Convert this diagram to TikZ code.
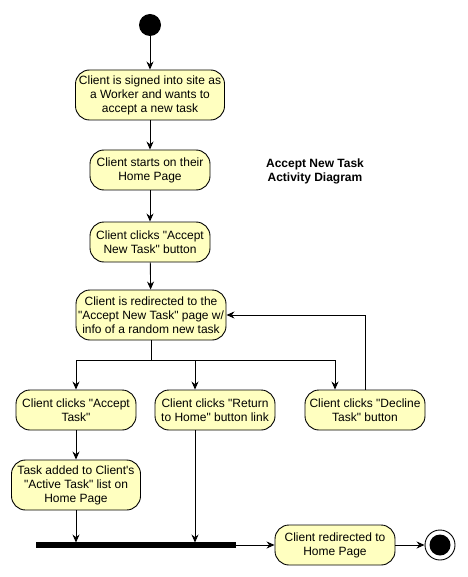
\documentclass[tikz,border=0pt]{standalone}
\usepackage{fontspec}
\newfontfamily\diagramfont{Liberation Sans}
\usetikzlibrary{arrows.meta,positioning}
\definecolor{taskyellow}{HTML}{FFFFC0}

\begin{document}
\begin{tikzpicture}[x=1pt,y=-1pt,line width=0.9pt,
			every node/.style={font=\diagramfont\fontsize{12}{14}\selectfont},
			activity/.style={draw,fill=taskyellow,rounded corners=14pt,align=center,
				inner sep=1pt,minimum width=120pt,minimum height=40pt},
			flow/.style={-{Stealth[length=8pt,width=7pt]}},
			syncbar/.style={fill=black,minimum width=200pt,minimum height=6pt,inner sep=0pt}]

	\useasboundingbox[fill=white] (0,0) rectangle (467,577);

	% start and end
	\node [circle,fill=black,minimum size=22pt,inner sep=0pt] (start) at (150,25) {};
	\node [circle,draw,fill=white,minimum size=30pt,inner sep=0pt] (finish) at (440,545) {};
	\fill (finish.center) circle (10.5pt);

	% activities
	\node [activity,minimum width=149pt,minimum height=50pt] (signed) at (150,95)
		{Client is signed into site as\\a Worker and wants to\\accept a new task};
	\node [activity] (home) at (150,170) {Client starts on their\\Home Page};
	\node [activity] (clicks) at (150,242) {Client clicks "Accept\\New Task" button};
	\node [activity,minimum width=150pt,minimum height=50pt] (redirect) at (151,315)
		{Client is redirected to the\\"Accept New Task" page w/\\info of a random new task};
	\node [activity] (accept) at (76,410) {Client clicks "Accept\\Task"};
	\node [activity] (back) at (215,410) {Client clicks "Return\\to Home" button link};
	\node [activity] (decline) at (365,410) {Client clicks "Decline\\Task" button};
	\node [activity,minimum width=129pt,minimum height=50pt] (added) at (76,485)
		{Task added to Client's\\"Active Task" list on\\Home Page};
	\node [syncbar] (bar) at (136,545) {};
	\node [activity] (done) at (335,545) {Client redirected to\\Home Page};

	\node [font=\diagramfont\bfseries\fontsize{12}{14}\selectfont,align=center] (title) at (315,171)
		{Accept New Task\\Activity Diagram};

	% connectors
	\draw [flow] (start) -- (signed);
	\draw [flow] (signed) -- (home);
	\draw [flow] (home) -- (clicks);
	\draw [flow] (clicks) -- (redirect);
	\coordinate (split) at (151,360);
	\draw (redirect.south) -- (split);
	\draw [flow] (split) -| (accept.north);
	\draw [flow] (split) -| ([xshift=-20pt]back.north);
	\draw [flow] (split) -| ([xshift=-30pt]decline.north);
	\draw [flow] (decline.north) |- (redirect.east);
	\draw [flow] (accept) -- (added);
	\draw [flow] (added.south) -- ([yshift=-1pt]added.south |- bar.north);
	\draw [flow] ([xshift=-20pt]back.south) -- ([xshift=-20pt,yshift=-1pt]back.south |- bar.north);
	\draw [flow] (bar.east) -- (done.west);
	\draw [flow] (done.east) -- (finish.west);
\end{tikzpicture}
\end{document}
